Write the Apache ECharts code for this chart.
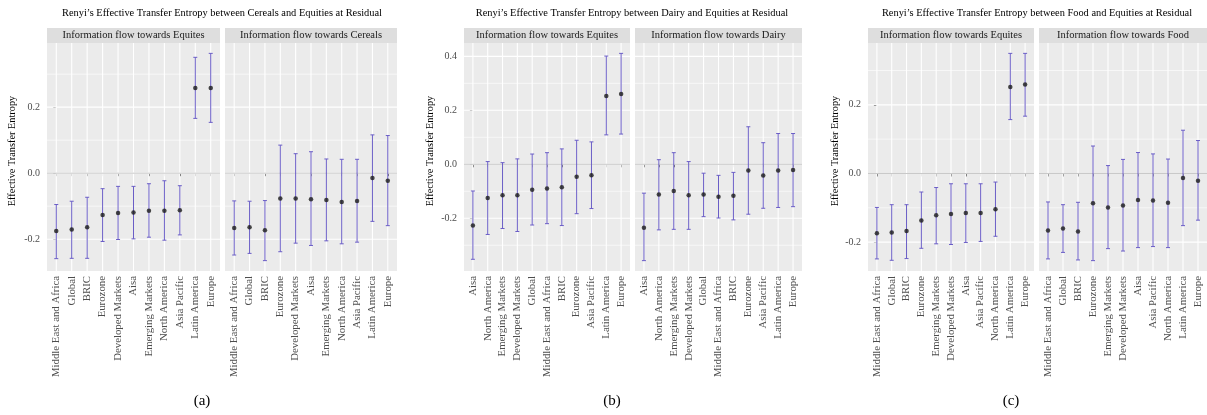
<!DOCTYPE html>
<html>
<head>
<meta charset="utf-8">
<script src="https://cdn.jsdelivr.net/npm/echarts@6/dist/echarts.min.js"></script>
<style>
  html, body { margin: 0; padding: 0; background: #ffffff; }
  #chart { width: 1207px; height: 415px; }
</style>
</head>
<body>
<div id="chart"></div>
<script>
// Region order along the x axis of each figure
const regionsCereals = ['Middle East and Africa', 'Global', 'BRIC', 'Eurozone', 'Developed Markets', 'Aisa', 'Emerging Markets', 'North America', 'Asia Pacific', 'Latin America', 'Europe'];
const regionsDairy = ['Aisa', 'North America', 'Emerging Markets', 'Developed Markets', 'Global', 'Middle East and Africa', 'BRIC', 'Eurozone', 'Asia Pacific', 'Latin America', 'Europe'];
const regionsFood = ['Middle East and Africa', 'Global', 'BRIC', 'Eurozone', 'Emerging Markets', 'Developed Markets', 'Aisa', 'Asia Pacific', 'North America', 'Latin America', 'Europe'];

// (a) Cereals vs equities: estimate with lower / upper bounds
const cerealsToEqEst  = [-0.175, -0.171, -0.164, -0.127, -0.121, -0.119, -0.114, -0.114, -0.112, 0.258, 0.258];
const cerealsToEqLow  = [-0.259, -0.258, -0.258, -0.207, -0.201, -0.199, -0.194, -0.203, -0.187, 0.166, 0.154];
const cerealsToEqHigh = [-0.095, -0.085, -0.073, -0.047, -0.040, -0.040, -0.032, -0.023, -0.038, 0.351, 0.363];
const eqToCerealsEst  = [-0.166, -0.164, -0.173, -0.077, -0.077, -0.079, -0.081, -0.087, -0.084, -0.015, -0.023];
const eqToCerealsLow  = [-0.248, -0.243, -0.265, -0.238, -0.212, -0.219, -0.205, -0.214, -0.209, -0.146, -0.159];
const eqToCerealsHigh = [-0.084, -0.085, -0.083, 0.085, 0.059, 0.065, 0.043, 0.042, 0.042, 0.116, 0.114];

// (b) Dairy vs equities
const dairyToEqEst  = [-0.227, -0.125, -0.115, -0.115, -0.094, -0.090, -0.085, -0.046, -0.041, 0.253, 0.260];
const dairyToEqLow  = [-0.352, -0.260, -0.238, -0.249, -0.225, -0.220, -0.227, -0.183, -0.164, 0.109, 0.112];
const dairyToEqHigh = [-0.099, 0.010, 0.006, 0.020, 0.038, 0.043, 0.057, 0.089, 0.083, 0.401, 0.411];
const eqToDairyEst  = [-0.235, -0.112, -0.099, -0.115, -0.112, -0.120, -0.117, -0.023, -0.042, -0.023, -0.021];
const eqToDairyLow  = [-0.357, -0.243, -0.241, -0.241, -0.194, -0.199, -0.206, -0.185, -0.163, -0.160, -0.157];
const eqToDairyHigh = [-0.107, 0.017, 0.043, 0.010, -0.033, -0.041, -0.030, 0.139, 0.080, 0.114, 0.114];

// (c) Food vs equities
const foodToEqEst  = [-0.174, -0.172, -0.168, -0.137, -0.122, -0.118, -0.115, -0.115, -0.104, 0.252, 0.259];
const foodToEqLow  = [-0.249, -0.253, -0.248, -0.218, -0.205, -0.207, -0.201, -0.198, -0.183, 0.157, 0.167];
const foodToEqHigh = [-0.099, -0.091, -0.091, -0.054, -0.041, -0.030, -0.030, -0.030, -0.025, 0.350, 0.350];
const eqToFoodEst  = [-0.166, -0.160, -0.169, -0.087, -0.099, -0.093, -0.077, -0.079, -0.085, -0.013, -0.021];
const eqToFoodLow  = [-0.249, -0.230, -0.252, -0.254, -0.219, -0.226, -0.216, -0.213, -0.216, -0.152, -0.136];
const eqToFoodHigh = [-0.083, -0.091, -0.084, 0.080, 0.023, 0.041, 0.061, 0.057, 0.042, 0.126, 0.096];

// Text
const titleA = "Renyi\u2019s Effective Transfer Entropy between Cereals and Equities at Residual";
const titleB = "Renyi\u2019s Effective Transfer Entropy between Dairy and Equities at Residual";
const titleC = "Renyi\u2019s Effective Transfer Entropy between Food and Equities at Residual";
const yTitle = 'Effective Transfer Entropy';
const stripEq = 'Information flow towards Equites';

// Layout and styling
const FONT = '"Liberation Serif", "DejaVu Serif", serif';
const PANEL_TOP = 43, PANEL_H = 228, STRIP_H = 15;
const PANEL_BG = '#ebebeb', STRIP_BG = '#dedede';
const BAR_COLOR = '#6a5dc6', POINT_COLOR = '#1a1a1a';

const figures = [
  { title: titleA, titleX: 222, tag: '(a)', tagX: 202, yTitleX: 12, cats: regionsCereals,
    facets: [
      { left: 47, width: 173, strip: stripEq, est: cerealsToEqEst, low: cerealsToEqLow, high: cerealsToEqHigh },
      { left: 225, width: 172, strip: 'Information flow towards Cereals', est: eqToCerealsEst, low: eqToCerealsLow, high: eqToCerealsHigh }
    ] },
  { title: titleB, titleX: 632, tag: '(b)', tagX: 612, yTitleX: 430, cats: regionsDairy,
    facets: [
      { left: 464, width: 166, strip: stripEq, est: dairyToEqEst, low: dairyToEqLow, high: dairyToEqHigh },
      { left: 635, width: 167, strip: 'Information flow towards Dairy', est: eqToDairyEst, low: eqToDairyLow, high: eqToDairyHigh }
    ] },
  { title: titleC, titleX: 1037, tag: '(c)', tagX: 1011, yTitleX: 835, cats: regionsFood,
    facets: [
      { left: 868, width: 166, strip: stripEq, est: foodToEqEst, low: foodToEqLow, high: foodToEqHigh },
      { left: 1039, width: 168, strip: 'Information flow towards Food', est: eqToFoodEst, low: eqToFoodLow, high: eqToFoodHigh }
    ] }
];

const grids = [], xAxes = [], yAxes = [], series = [], graphics = [];

figures.forEach((fig) => {
  // shared y range across both facets, padded by 5% of the span
  let lo = Infinity, hi = -Infinity;
  fig.facets.forEach(f => {
    f.low.forEach(v => { lo = Math.min(lo, v); });
    f.high.forEach(v => { hi = Math.max(hi, v); });
  });
  const pad = (hi - lo) * 0.05;
  const yMin = lo - pad, yMax = hi + pad;
  const majors = [], minors = [];
  for (let k = Math.ceil(yMin * 10 - 1e-9); k <= Math.floor(yMax * 10 + 1e-9); k++) {
    (k % 2 === 0 ? majors : minors).push(k / 10);
  }
  const n = fig.cats.length;
  const idx = fig.cats.map((c, i) => i);

  fig.facets.forEach((f, fi) => {
    const g = grids.length;
    grids.push({ left: f.left, top: PANEL_TOP, width: f.width, height: PANEL_H,
      show: true, backgroundColor: PANEL_BG, borderWidth: 0, containLabel: false });

    xAxes.push({
      type: 'value', gridIndex: g, min: -0.6, max: n - 1 + 0.6,
      axisLine: { show: false }, splitLine: { show: false },
      axisTick: { show: true, customValues: idx, length: 3, lineStyle: { color: '#333333', width: 1 } },
      axisLabel: { show: true, customValues: idx, rotate: 90, margin: 5,
        formatter: v => fig.cats[Math.round(v)] || '',
        fontFamily: FONT, fontSize: 10.8, color: '#4d4d4d' }
    });

    yAxes.push({
      type: 'value', gridIndex: g, min: yMin, max: yMax,
      axisLine: { show: false }, splitLine: { show: false },
      axisTick: { show: fi === 0, customValues: majors, length: 3, lineStyle: { color: '#333333', width: 1 } },
      axisLabel: { show: fi === 0, customValues: majors, margin: 7,
        formatter: v => v.toFixed(1),
        fontFamily: FONT, fontSize: 10, color: '#4d4d4d' }
    });

    // panel grid lines and the zero reference line
    series.push({
      type: 'custom', xAxisIndex: g, yAxisIndex: g, z: 1, silent: true,
      data: [[0, 0]],
      renderItem: (params, api) => {
        const cs = params.coordSys;
        const kids = [];
        minors.forEach(v => {
          const y = api.coord([0, v])[1];
          kids.push({ type: 'line', shape: { x1: cs.x, y1: y, x2: cs.x + cs.width, y2: y }, style: { stroke: '#ffffff', lineWidth: 0.6 } });
        });
        majors.forEach(v => {
          const y = api.coord([0, v])[1];
          kids.push({ type: 'line', shape: { x1: cs.x, y1: y, x2: cs.x + cs.width, y2: y }, style: { stroke: '#ffffff', lineWidth: 1.1 } });
        });
        idx.forEach(i => {
          const x = api.coord([i, 0])[0];
          kids.push({ type: 'line', shape: { x1: x, y1: cs.y, x2: x, y2: cs.y + cs.height }, style: { stroke: '#ffffff', lineWidth: 1.1 } });
        });
        const y0 = api.coord([0, 0])[1];
        kids.push({ type: 'line', shape: { x1: cs.x, y1: y0, x2: cs.x + cs.width, y2: y0 }, style: { stroke: '#c8c8c8', lineWidth: 1 } });
        return { type: 'group', children: kids };
      }
    });

    // error bars
    series.push({
      type: 'custom', xAxisIndex: g, yAxisIndex: g, z: 2, silent: true,
      encode: { x: 0, y: [1, 2] },
      data: idx.map(i => [i, f.low[i], f.high[i]]),
      renderItem: (params, api) => {
        const x = api.value(0);
        const pLo = api.coord([x, api.value(1)]);
        const pHi = api.coord([x, api.value(2)]);
        const hw = 2;
        const st = { stroke: BAR_COLOR, lineWidth: 1 };
        return { type: 'group', children: [
          { type: 'line', shape: { x1: pLo[0], y1: pLo[1], x2: pHi[0], y2: pHi[1] }, style: st },
          { type: 'line', shape: { x1: pLo[0] - hw, y1: pLo[1], x2: pLo[0] + hw, y2: pLo[1] }, style: st },
          { type: 'line', shape: { x1: pHi[0] - hw, y1: pHi[1], x2: pHi[0] + hw, y2: pHi[1] }, style: st }
        ] };
      }
    });

    // point estimates
    series.push({
      type: 'scatter', xAxisIndex: g, yAxisIndex: g, z: 3, silent: true,
      symbol: 'circle', symbolSize: 4.5,
      itemStyle: { color: POINT_COLOR },
      data: idx.map(i => [i, f.est[i]])
    });

    // facet strip
    graphics.push({ type: 'rect', left: f.left, top: PANEL_TOP - STRIP_H, silent: true,
      shape: { width: f.width, height: STRIP_H }, style: { fill: STRIP_BG } });
    graphics.push({ type: 'text', x: f.left + f.width / 2, y: PANEL_TOP - STRIP_H / 2, silent: true,
      style: { text: f.strip, align: 'center', verticalAlign: 'middle',
        font: '10.5px ' + FONT, fill: '#1a1a1a' } });
  });

  graphics.push({ type: 'text', x: fig.titleX, y: 13, silent: true,
    style: { text: fig.title, align: 'center', verticalAlign: 'middle', font: '10.4px ' + FONT, fill: '#000000' } });
  graphics.push({ type: 'text', x: fig.yTitleX, y: 151, rotation: Math.PI / 2, silent: true,
    style: { text: yTitle, align: 'center', verticalAlign: 'middle', font: '10.3px ' + FONT, fill: '#000000' } });
  graphics.push({ type: 'text', x: fig.tagX, y: 401, silent: true,
    style: { text: fig.tag, align: 'center', verticalAlign: 'middle', font: '15px ' + FONT, fill: '#000000' } });
});

const chart = echarts.init(document.getElementById('chart'), null, { renderer: 'canvas' });
chart.setOption({
  animation: false,
  backgroundColor: '#ffffff',
  grid: grids,
  xAxis: xAxes,
  yAxis: yAxes,
  series: series,
  graphic: graphics
});
</script>
</body>
</html>
